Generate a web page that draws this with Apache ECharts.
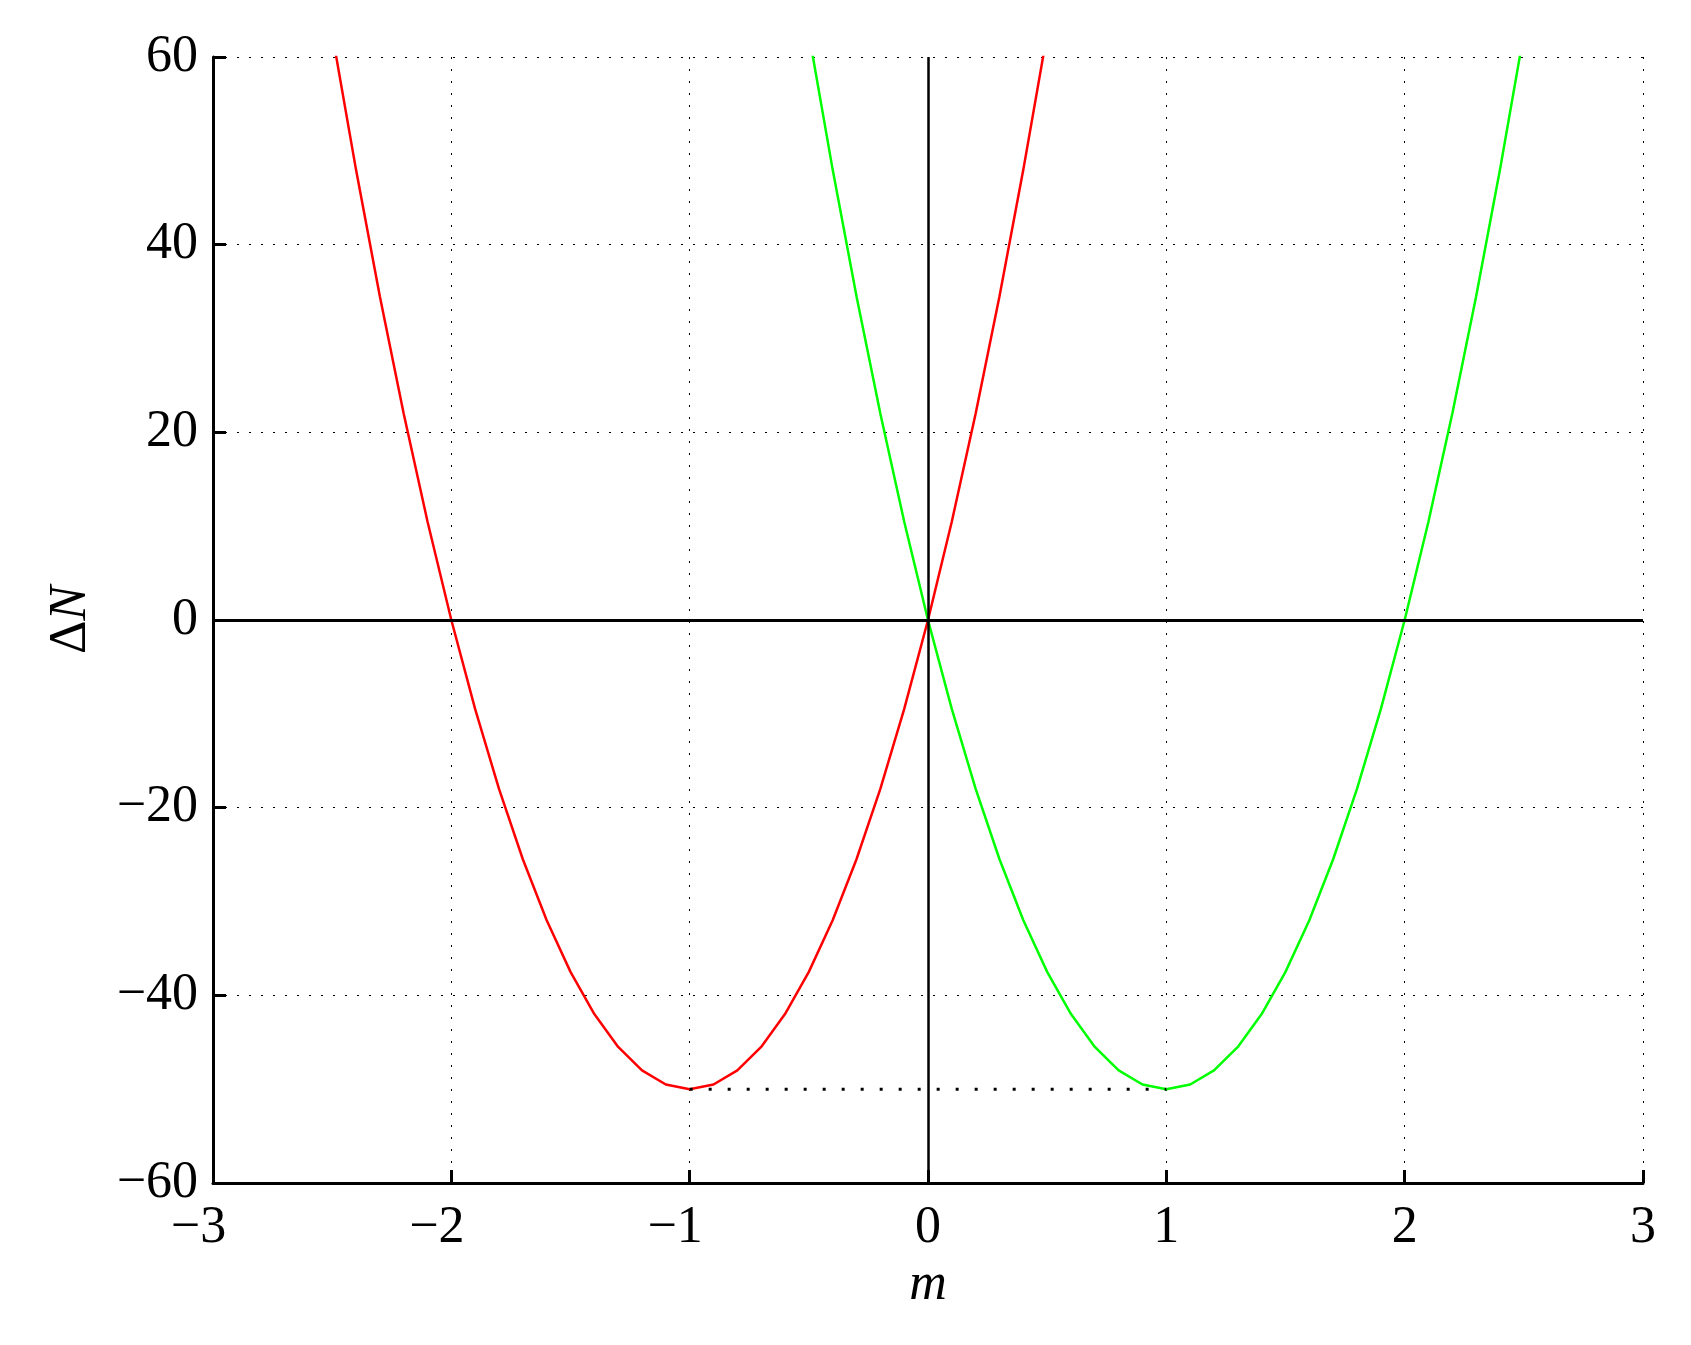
<!DOCTYPE html>
<html>
<head>
<meta charset="utf-8">
<script src="https://cdn.jsdelivr.net/npm/echarts@6/dist/echarts.min.js"></script>
<style>
  html, body { margin: 0; padding: 0; background: #fff; }
  #chart { width: 1691px; height: 1345px; }
</style>
</head>
<body>
<div id="chart"></div>
<script>
  // values, step 0.1 in m
  var mRed = [-2.5, -2.4, -2.3, -2.2, -2.1, -2.0, -1.9, -1.8, -1.7, -1.6, -1.5, -1.4, -1.3, -1.2, -1.1, -1.0,
    -0.9, -0.8, -0.7, -0.6, -0.5, -0.4, -0.3, -0.2, -0.1, 0.0, 0.1, 0.2, 0.3, 0.4, 0.5];
  var dnRed = [62.5, 48, 34.5, 22, 10.5, 0, -9.5, -18, -25.5, -32, -37.5, -42, -45.5, -48, -49.5, -50,
    -49.5, -48, -45.5, -42, -37.5, -32, -25.5, -18, -9.5, 0, 10.5, 22, 34.5, 48, 62.5];
  var mGreen = [-0.5, -0.4, -0.3, -0.2, -0.1, 0.0, 0.1, 0.2, 0.3, 0.4, 0.5, 0.6, 0.7, 0.8, 0.9, 1.0,
    1.1, 1.2, 1.3, 1.4, 1.5, 1.6, 1.7, 1.8, 1.9, 2.0, 2.1, 2.2, 2.3, 2.4, 2.5];
  var dnGreen = [62.5, 48, 34.5, 22, 10.5, 0, -9.5, -18, -25.5, -32, -37.5, -42, -45.5, -48, -49.5, -50,
    -49.5, -48, -45.5, -42, -37.5, -32, -25.5, -18, -9.5, 0, 10.5, 22, 34.5, 48, 62.5];
  // dotted line joining the two minima
  var mMin = [-1, 1];
  var dnMin = [-50, -50];

  var xTicks = [-3, -2, -1, 0, 1, 2, 3];
  var yTicks = [-60, -40, -20, 0, 20, 40, 60];

  function zip(a, b) {
    var out = [];
    for (var i = 0; i < a.length; i++) out.push([a[i], b[i]]);
    return out;
  }

  var font = 'Liberation Serif';
  var myChart = echarts.init(document.getElementById('chart'));

  function tickLabel(v) {
    if (v < 0) return '{neg|\u2212' + Math.abs(v) + '}';
    return '{pos|' + v + '}';
  }

  var option = {
    animation: false,
    backgroundColor: '#fff',
    grid: { left: 213, top: 57, width: 1430, height: 1126, containLabel: false },
    xAxis: {
      type: 'value',
      min: xTicks[0],
      max: xTicks[xTicks.length - 1],
      interval: 1,
      name: 'm',
      nameLocation: 'middle',
      nameGap: 74,
      nameTextStyle: { fontFamily: font, fontSize: 52, fontStyle: 'italic', color: '#000' },
      axisLine: { onZero: false, lineStyle: { color: '#000', width: 3 } },
      axisTick: { inside: true, length: 13, lineStyle: { color: '#000', width: 3 } },
      axisLabel: {
        margin: 19,
        formatter: tickLabel,
        rich: {
          neg: { fontFamily: font, fontSize: 52, color: '#000', padding: [0, 29, 0, 0] },
          pos: { fontFamily: font, fontSize: 52, color: '#000' }
        }
      },
      splitLine: { show: true, lineStyle: { color: '#000', width: 1, type: [2, 10] } }
    },
    yAxis: {
      type: 'value',
      min: yTicks[0],
      max: yTicks[yTicks.length - 1],
      interval: 20,
      name: '{d|\u0394}{n|N}',
      nameLocation: 'middle',
      nameRotate: 90,
      nameGap: 116,
      nameTextStyle: {
        rich: {
          d: { fontFamily: font, fontSize: 52, color: '#000' },
          n: { fontFamily: font, fontSize: 52, fontStyle: 'italic', color: '#000' }
        }
      },
      axisLine: { onZero: false, lineStyle: { color: '#000', width: 3 } },
      axisTick: { inside: true, length: 13, lineStyle: { color: '#000', width: 3 } },
      axisLabel: {
        margin: 15,
        fontFamily: font,
        fontSize: 52,
        color: '#000',
        formatter: function (v) { return v < 0 ? '\u2212' + Math.abs(v) : '' + v; }
      },
      splitLine: { show: true, lineStyle: { color: '#000', width: 1, type: [2, 10] } }
    },
    series: [
      {
        type: 'line',
        data: [],
        silent: true,
        markLine: {
          silent: true,
          symbol: 'none',
          label: { show: false },
          lineStyle: { color: '#000', type: 'solid' },
          data: [
            { yAxis: 0, lineStyle: { width: 3 } },
            { xAxis: 0, lineStyle: { width: 2.5 } }
          ]
        }
      },
      {
        name: 'red',
        type: 'line',
        data: zip(mRed, dnRed),
        showSymbol: false,
        lineStyle: { color: '#ff0000', width: 2.5 },
        itemStyle: { color: '#ff0000' }
      },
      {
        name: 'green',
        type: 'line',
        data: zip(mGreen, dnGreen),
        showSymbol: false,
        lineStyle: { color: '#00ff00', width: 2.5 },
        itemStyle: { color: '#00ff00' }
      },
      {
        name: 'min',
        type: 'line',
        data: zip(mMin, dnMin),
        showSymbol: false,
        lineStyle: { color: '#000', width: 3, type: [3, 16] },
        itemStyle: { color: '#000' }
      }
    ]
  };
  myChart.setOption(option);
</script>
</body>
</html>
